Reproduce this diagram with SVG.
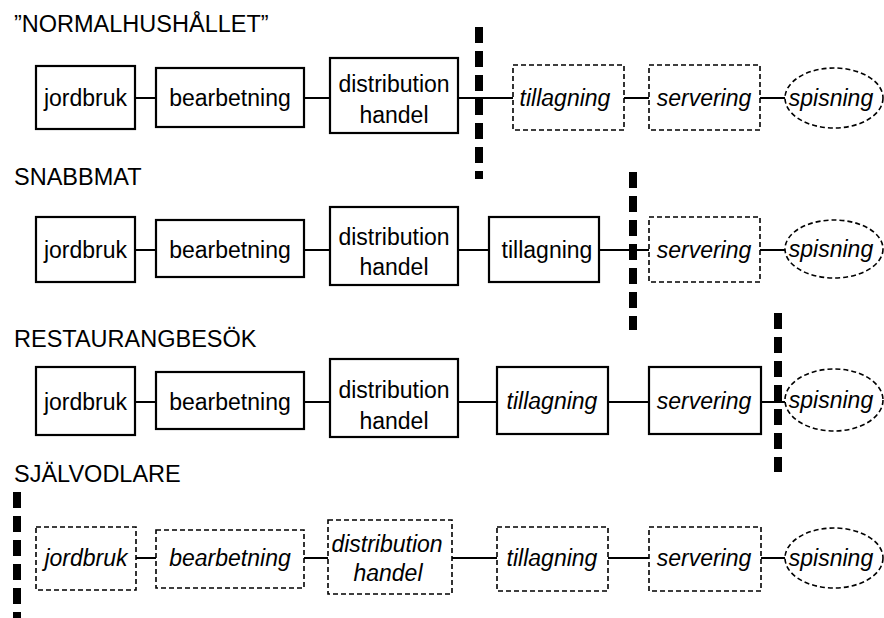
<svg xmlns="http://www.w3.org/2000/svg" width="884" height="618" viewBox="0 0 884 618">
<style>
text{font-family:"Liberation Sans",Arial,Helvetica,sans-serif;font-size:23px;fill:#000}
.t{font-size:23.5px}
.c{text-anchor:middle}
.i{font-style:italic}
.s{fill:#fff;stroke:#000;stroke-width:2.2}
.d{fill:#fff;stroke:#000;stroke-width:1.6;stroke-dasharray:5 3}
.ln{stroke:#000;stroke-width:2;fill:none}
.cut{stroke:#000;stroke-width:8;fill:none;stroke-dasharray:16 8}
</style>
<rect width="884" height="618" fill="#fff"/>
<g id="titles">
<text class="t" x="14" y="32">”NORMALHUSHÅLLET”</text>
<text class="t" x="14" y="185">SNABBMAT</text>
<text class="t" x="14" y="347">RESTAURANGBESÖK</text>
<text class="t" x="14" y="482">SJÄLVODLARE</text>
</g>
<g id="connectors">
<path class="ln" d="M135 98H156M304 98H330M458 98H513M624 98H649M760 98H785"/>
<path class="ln" d="M135 250H156M304 250H330M458 250H489M599 250H649M760 250H785"/>
<path class="ln" d="M135 402H156M304 402H330M458 402H497M608 402H649M761 402H785"/>
<path class="ln" d="M136 558H156M304 558H328M452 558H497M608 558H649M761 558H785"/>
</g>
<g id="row1">
<g id="r1-jordbruk"><rect class="s" x="36" y="66" width="99" height="63"/><text class="c" x="85.5" y="106">jordbruk</text></g>
<g id="r1-bearbetning"><rect class="s" x="156" y="68" width="148" height="59"/><text class="c" x="230" y="106">bearbetning</text></g>
<g id="r1-distribution"><rect class="s" x="330" y="58" width="128" height="75"/><text class="c" x="394" y="92">distribution</text><text class="c" x="394" y="123">handel</text></g>
<g id="r1-tillagning"><rect class="d" x="513" y="65" width="111" height="65"/><text class="c i" x="565" y="106">tillagning</text></g>
<g id="r1-servering"><rect class="d" x="649" y="65" width="111" height="65"/><text class="c i" x="704" y="106">servering</text></g>
<g id="r1-spisning"><ellipse class="d" cx="834" cy="98" rx="49" ry="30"/><text class="c i" x="831" y="106">spisning</text></g>
</g>
<g id="row2">
<g id="r2-jordbruk"><rect class="s" x="36" y="217" width="99" height="65"/><text class="c" x="85.5" y="258">jordbruk</text></g>
<g id="r2-bearbetning"><rect class="s" x="156" y="220" width="148" height="57"/><text class="c" x="230" y="258">bearbetning</text></g>
<g id="r2-distribution"><rect class="s" x="330" y="207" width="128" height="78"/><text class="c" x="394" y="245">distribution</text><text class="c" x="394" y="275">handel</text></g>
<g id="r2-tillagning"><rect class="s" x="489" y="217" width="110" height="65"/><text class="c" x="547" y="258">tillagning</text></g>
<g id="r2-servering"><rect class="d" x="649" y="217" width="111" height="65"/><text class="c i" x="704" y="258">servering</text></g>
<g id="r2-spisning"><ellipse class="d" cx="834" cy="249" rx="49" ry="29"/><text class="c i" x="831" y="257">spisning</text></g>
</g>
<g id="row3">
<g id="r3-jordbruk"><rect class="s" x="36" y="367" width="99" height="68"/><text class="c" x="85.5" y="410">jordbruk</text></g>
<g id="r3-bearbetning"><rect class="s" x="156" y="372" width="148" height="57"/><text class="c" x="230" y="410">bearbetning</text></g>
<g id="r3-distribution"><rect class="s" x="330" y="359" width="128" height="78"/><text class="c" x="394" y="398">distribution</text><text class="c" x="394" y="429">handel</text></g>
<g id="r3-tillagning"><rect class="s" x="497" y="367" width="111" height="67"/><text class="c i" x="552" y="409">tillagning</text></g>
<g id="r3-servering"><rect class="s" x="649" y="367" width="112" height="67"/><text class="c i" x="704" y="409">servering</text></g>
<g id="r3-spisning"><ellipse class="d" cx="834" cy="400" rx="49" ry="31"/><text class="c i" x="831" y="408">spisning</text></g>
</g>
<g id="row4">
<g id="r4-jordbruk"><rect class="d" x="36" y="527" width="100" height="63"/><text class="c i" x="86" y="566">jordbruk</text></g>
<g id="r4-bearbetning"><rect class="d" x="156" y="530" width="148" height="58"/><text class="c i" x="230" y="566">bearbetning</text></g>
<g id="r4-distribution"><rect class="d" x="328" y="520" width="124" height="74"/><text class="c i" x="387" y="552">distribution</text><text class="c i" x="388" y="581">handel</text></g>
<g id="r4-tillagning"><rect class="d" x="497" y="527" width="111" height="64"/><text class="c i" x="552" y="566">tillagning</text></g>
<g id="r4-servering"><rect class="d" x="649" y="527" width="112" height="64"/><text class="c i" x="704" y="566">servering</text></g>
<g id="r4-spisning"><ellipse class="d" cx="834" cy="558" rx="49" ry="30"/><text class="c i" x="831" y="566">spisning</text></g>
</g>
<g id="boundaries">
<path class="cut" d="M479 27V179"/>
<path class="cut" d="M633 172V330"/>
<path class="cut" d="M778 313V472"/>
<path class="cut" d="M17 492V618"/>
</g>
</svg>
